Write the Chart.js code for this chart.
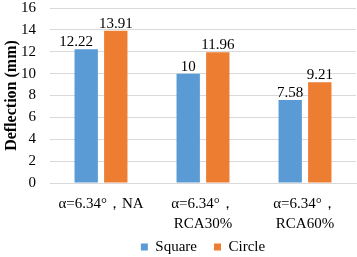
<!DOCTYPE html>
<html>
<head>
<meta charset="utf-8">
<script src="https://cdn.jsdelivr.net/npm/chart.js@4"></script>
<style>
  html, body { margin: 0; padding: 0; background: #fff; }
  #wrap { width: 357px; height: 257px; }
</style>
</head>
<body>
<div id="wrap"><canvas id="c" width="357" height="257"></canvas></div>
<script>
// Chart data
const categories = [['α=6.34°，NA'], ['α=6.34°，', 'RCA30%'], ['α=6.34°，', 'RCA60%']];
const squareValues = [12.22, 10, 7.58];
const circleValues = [13.91, 11.96, 9.21];
const valueLabels = [['12.22', '10', '7.58'], ['13.91', '11.96', '9.21']];

const serif = '"Liberation Serif", "Times New Roman", serif';
Chart.defaults.font.family = serif;
Chart.defaults.color = '#000';

// value labels above bars; left label nudged away if it would touch the right one
const barLabels = {
    id: 'barLabels',
    afterLayout(chart) {
        // x axis box is squeezed so the legend sits close; don't clip its 2nd label line
        chart.scales.x.bottom = chart.height;
    },
    afterDatasetsDraw(chart) {
        const ctx = chart.ctx;
        ctx.save();
        ctx.font = '15px ' + serif;
        ctx.fillStyle = '#000';
        ctx.textAlign = 'center';
        ctx.textBaseline = 'alphabetic';
        const left = chart.getDatasetMeta(0).data;
        const right = chart.getDatasetMeta(1).data;
        left.forEach((bar, j) => {
            const wl = ctx.measureText(valueLabels[0][j]).width;
            const wr = ctx.measureText(valueLabels[1][j]).width;
            const overlap = wl / 2 + wr / 2 - (right[j].x - bar.x);
            const shift = overlap > 0 ? overlap + 6 : 0;
            ctx.fillText(valueLabels[0][j], bar.x - shift, bar.y - 3);
            ctx.fillText(valueLabels[1][j], right[j].x, right[j].y - 3);
        });
        ctx.restore();
    }
};

new Chart(document.getElementById('c').getContext('2d'), {
    type: 'bar',
    data: {
        labels: categories,
        datasets: [
            { label: 'Square', data: squareValues, backgroundColor: '#5B9BD5', categoryPercentage: 0.58, barPercentage: 0.79 },
            { label: 'Circle', data: circleValues, backgroundColor: '#ED7D31', categoryPercentage: 0.58, barPercentage: 0.79 }
        ]
    },
    options: {
        responsive: false,
        animation: false,
        layout: { padding: { left: 2, right: 1, top: 0, bottom: -7.5 } },
        plugins: {
            legend: {
                position: 'bottom',
                fullSize: false,
                labels: {
                    font: { family: serif, size: 15 },
                    color: '#000',
                    boxWidth: 7,
                    boxHeight: 7,
                    padding: 17
                }
            },
            tooltip: { enabled: false }
        },
        scales: {
            x: {
                afterFit(scale) {
                    scale.height = 39.5;
                },
                grid: { display: false, drawTicks: false },
                border: { color: '#d9d9d9' },
                ticks: { color: '#000', font: { family: serif, size: 15, lineHeight: 1.33 }, maxRotation: 0, padding: 11 }
            },
            y: {
                min: 0,
                max: 16,
                afterFit(scale) {
                    scale.width = 48;
                    scale.paddingTop = 8;
                    scale.paddingBottom = 0;
                },
                ticks: { stepSize: 2, autoSkip: false, color: '#000', font: { family: serif, size: 15 }, padding: 14 },
                grid: { color: '#d9d9d9', drawTicks: false },
                border: { display: false },
                title: {
                    display: true,
                    text: 'Deflection (mm)',
                    color: '#000',
                    font: { family: serif, size: 16, weight: 'bold' },
                    padding: 0
                }
            }
        }
    },
    plugins: [barLabels]
});
</script>
</body>
</html>
